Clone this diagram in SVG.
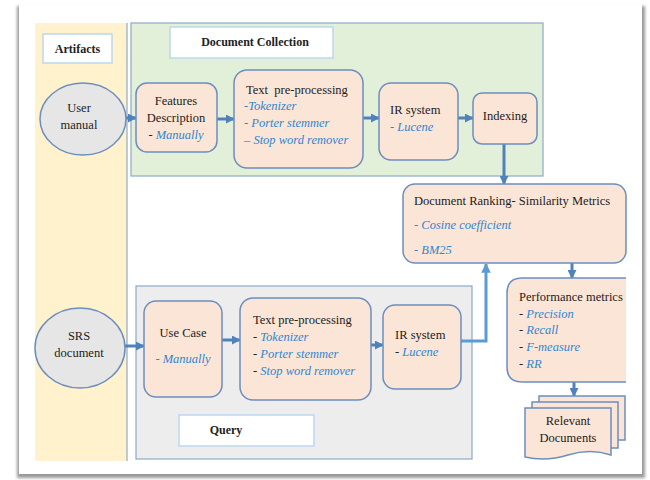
<svg xmlns="http://www.w3.org/2000/svg" width="650" height="480" viewBox="0 0 650 480" font-family="'Liberation Serif', 'DejaVu Serif', serif">
  <defs>
    <marker id="ah" viewBox="0 0 10 10" refX="9" refY="5" markerWidth="3" markerHeight="3" orient="auto" markerUnits="strokeWidth">
      <path d="M0,0 L10,5 L0,10 z" fill="#4F81BD"/>
    </marker>
    <marker id="ahL" viewBox="0 0 10 10" refX="9" refY="5" markerWidth="3.2" markerHeight="3.2" orient="auto" markerUnits="strokeWidth">
      <path d="M0,0 L10,5 L0,10 z" fill="#5B9BD5"/>
    </marker>
    <filter id="shadow" x="-5%" y="-5%" width="110%" height="110%">
      <feGaussianBlur stdDeviation="1.5"/>
    </filter>
  </defs>
  <style>
    text { font-family: 'Liberation Serif', 'DejaVu Serif', serif; font-size: 12.5px; fill: #222; }
    .b { font-weight: bold; font-size: 12px; }
    .i { font-style: italic; fill: #2E86D1; }
    .c { text-anchor: middle; }
    .box { fill: #FBE5D6; stroke: #6C8EBF; stroke-width: 1.5; }
    .ell { fill: #E7E6E6; stroke: #6C8EBF; stroke-width: 1.5; }
    .lbl { fill: #FFFFFF; stroke: #BDD7EE; stroke-width: 1.5; }
    .conn { fill: none; stroke: #4F81BD; stroke-width: 3; }
  </style>

  <!-- page frame with shadow -->
  <rect x="0" y="0" width="650" height="480" fill="#FFFFFF"/>
  <rect x="17" y="6" width="628" height="472" fill="#9A9A9A" filter="url(#shadow)"/>
  <rect x="19" y="4" width="623" height="470" fill="#FFFFFF"/>

  <!-- swimlane backgrounds -->
  <g id="artifacts-lane">
    <rect x="35" y="23" width="92" height="438" fill="#FFF2CC"/>
    <line x1="127" y1="23" x2="127" y2="461" stroke="#8EA9C8" stroke-width="1.2"/>
    <rect x="43" y="34" width="69" height="29" class="lbl"/>
    <text x="77.5" y="53" class="b c">Artifacts</text>
  </g>
  <g id="collection-lane">
    <rect x="131" y="23" width="412" height="153" fill="#E2F0D9" stroke="#8EA9C8" stroke-width="1.2"/>
    <rect x="170" y="27" width="163" height="31" class="lbl"/>
    <text x="255" y="46" class="b c">Document Collection</text>
  </g>
  <g id="query-lane">
    <rect x="136" y="286" width="336" height="173" fill="#EDEDED" stroke="#8EA9C8" stroke-width="1.2"/>
    <rect x="179" y="415" width="135" height="31" class="lbl"/>
    <text x="226" y="434" class="b c">Query</text>
  </g>

  <!-- connectors -->
  <g id="connectors">
    <line x1="113" y1="118" x2="136" y2="118" class="conn" marker-end="url(#ah)"/>
    <line x1="217" y1="119" x2="234" y2="119" class="conn" marker-end="url(#ah)"/>
    <line x1="363" y1="118" x2="379" y2="118" class="conn" marker-end="url(#ah)"/>
    <line x1="458" y1="118" x2="473" y2="118" class="conn" marker-end="url(#ah)"/>
    <line x1="504" y1="144" x2="504" y2="184" class="conn" marker-end="url(#ah)"/>
    <line x1="572" y1="263" x2="572" y2="278" class="conn" marker-end="url(#ah)"/>
    <line x1="574" y1="382" x2="574" y2="396" class="conn" marker-end="url(#ah)"/>
    <line x1="123" y1="346" x2="144" y2="346" class="conn" marker-end="url(#ah)"/>
    <line x1="222" y1="340" x2="240" y2="340" class="conn" marker-end="url(#ah)"/>
    <line x1="371" y1="345" x2="383" y2="345" class="conn" marker-end="url(#ah)"/>
    <polyline points="461,341 486,341 486,264" fill="none" stroke="#5B9BD5" stroke-width="3" marker-end="url(#ahL)"/>
  </g>

  <!-- document collection side -->
  <g id="user-manual">
    <ellipse cx="83" cy="119" rx="43" ry="36" class="ell"/>
    <text x="79" y="112" class="c">User</text>
    <text x="79" y="129" class="c">manual</text>
  </g>
  <g id="features-description">
    <rect x="136" y="83" width="81" height="69" rx="11" class="box"/>
    <text x="176" y="105" class="c">Features</text>
    <text x="176" y="122" class="c">Description</text>
    <text x="176" y="139" class="c">- <tspan class="i">Manually</tspan></text>
  </g>
  <g id="text-preprocessing-docs">
    <rect x="234" y="70" width="129" height="98" rx="13" class="box"/>
    <text x="246" y="94" xml:space="preserve">Text  pre-processing</text>
    <text x="244" y="110" class="i">-Tokenizer</text>
    <text x="244" y="127" class="i">- Porter stemmer</text>
    <text x="244" y="144" class="i">– Stop word remover</text>
  </g>
  <g id="ir-system-docs">
    <rect x="379" y="83" width="79" height="77" rx="12" class="box"/>
    <text x="390" y="114">IR system</text>
    <text x="390" y="131" class="i">- Lucene</text>
  </g>
  <g id="indexing">
    <rect x="473" y="93" width="64" height="51" rx="9" class="box"/>
    <text x="505" y="120" class="c">Indexing</text>
  </g>

  <!-- ranking and evaluation -->
  <g id="document-ranking">
    <rect x="403" y="184" width="223" height="79" rx="12" class="box"/>
    <text x="414" y="205">Document Ranking- Similarity Metrics</text>
    <text x="414" y="229" class="i">- Cosine coefficient</text>
    <text x="414" y="254" class="i">- BM25</text>
  </g>
  <g id="performance-metrics">
    <path d="M626,278 L522,278 Q507,278 507,293 L507,367 Q507,382 522,382 L626,382" class="box"/>
    <text x="519" y="301">Performance metrics</text>
    <text x="519" y="318">- <tspan class="i">Precision</tspan></text>
    <text x="519" y="334">- <tspan class="i">Recall</tspan></text>
    <text x="519" y="351">- <tspan class="i">F-measure</tspan></text>
    <text x="519" y="368">- <tspan class="i">RR</tspan></text>
  </g>
  <g id="relevant-documents">
    <rect x="539" y="396" width="86" height="44" class="box"/>
    <rect x="532" y="402" width="86" height="46" class="box"/>
    <path d="M525,408 L611,408 L611,455 Q590,448 568,455 Q546,462 525,457 Z" class="box"/>
    <text x="568" y="425" class="c">Relevant</text>
    <text x="568" y="442" class="c">Documents</text>
  </g>

  <!-- query side -->
  <g id="srs-document">
    <ellipse cx="80" cy="348" rx="45" ry="40" class="ell"/>
    <text x="79" y="340" class="c">SRS</text>
    <text x="79" y="357" class="c">document</text>
  </g>
  <g id="use-case">
    <rect x="144" y="301" width="78" height="96" rx="12" class="box"/>
    <text x="183" y="337" class="c">Use Case</text>
    <text x="183" y="363" class="c i">- Manually</text>
  </g>
  <g id="text-preprocessing-query">
    <rect x="240" y="298" width="131" height="102" rx="13" class="box"/>
    <text x="253" y="324">Text pre-processing</text>
    <text x="253" y="341">- <tspan class="i">Tokenizer</tspan></text>
    <text x="253" y="358">- <tspan class="i">Porter stemmer</tspan></text>
    <text x="253" y="375">- <tspan class="i">Stop word remover</tspan></text>
  </g>
  <g id="ir-system-query">
    <rect x="383" y="305" width="78" height="84" rx="12" class="box"/>
    <text x="395" y="339">IR system</text>
    <text x="395" y="356">- <tspan class="i">Lucene</tspan></text>
  </g>
</svg>
